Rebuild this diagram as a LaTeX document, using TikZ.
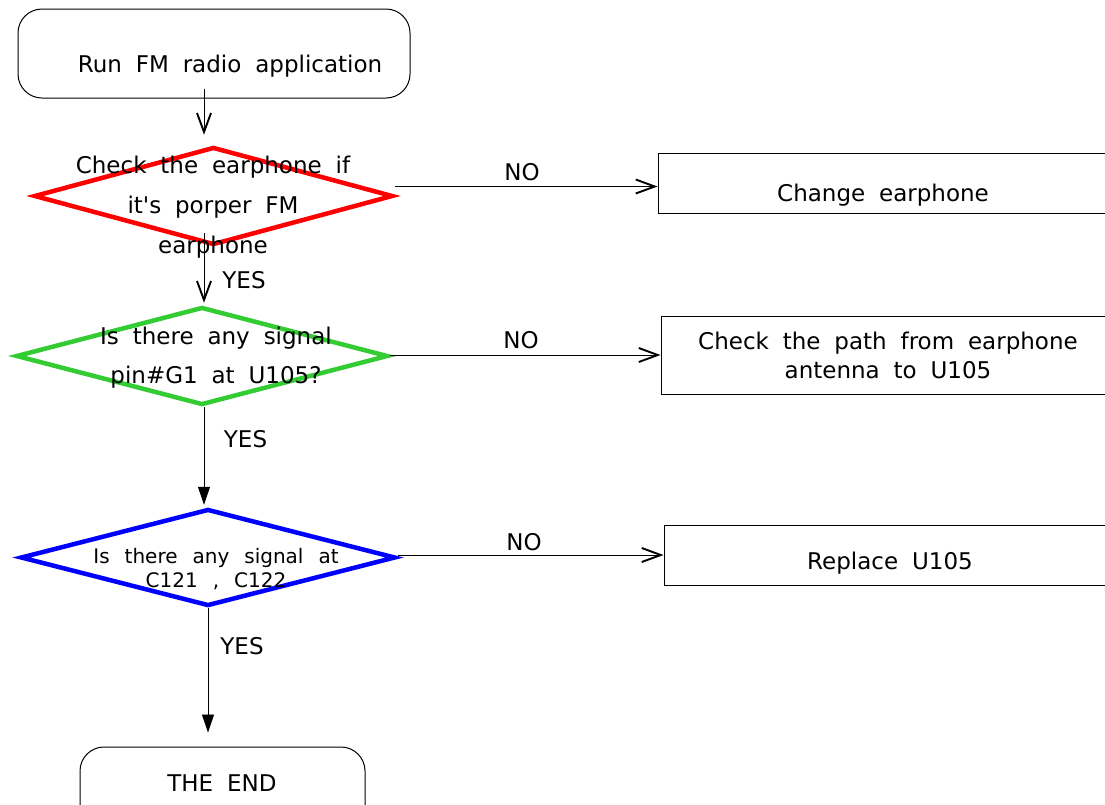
\documentclass[tikz,border=0pt]{standalone}
\usepackage{fontspec}
\setmainfont[WordSpace=1.9]{DejaVu Sans}
\newfontfamily\widespace[WordSpace=2.36]{DejaVu Sans}
\usetikzlibrary{shapes.geometric,arrows.meta,calc}

\definecolor{chkred}{RGB}{255,0,0}
\definecolor{siggreen}{RGB}{51,204,51}
\definecolor{sigblue}{RGB}{0,0,255}

\newcommand{\flowfont}{\fontsize{23}{29}\selectfont}

\begin{document}
\begin{tikzpicture}[%
    x=1pt, y=-1pt,
    >={Straight Barb[length=19pt,width=14pt,line width=1.9pt]},
    every node/.style={font=\flowfont, inner sep=0pt},
    term/.style={draw, rectangle, rounded corners=24pt, line width=1pt},
    decision/.style={draw, diamond, line width=4.5pt},
    action/.style={draw, rectangle, line width=1pt},
    solidhead/.style={-{Triangle[length=18pt,width=12pt]}, line width=0.9pt}
]

\useasboundingbox (0,0) rectangle (1105,804);

% start
\node[term, minimum width=392pt, minimum height=89pt] (run) at (214,53.5) {};
\node[anchor=base] (runtxt) at (230,72.7) {Run FM radio application};

% first check = earphone
\node[decision, draw=chkred, minimum width=359pt, minimum height=98pt] (earph) at (213.5,196) {};
\node[align=center, font=\fontsize{23}{40}\selectfont] (earphtxt) at (213,207)
    {Check the earphone if\\it\textquotesingle s porper FM\\earphone};

% second check = signal at U105
\node[decision, draw=siggreen, minimum width=372pt, minimum height=98pt] (sig) at (202,356) {};
\node[align=center, font=\fontsize{23}{39}\selectfont] (sigtxt) at (216,357.5)
    {Is there any signal\\pin\#G1 at U105?};

% third check = signal at C121, C122
\node[decision, draw=sigblue, minimum width=375pt, minimum height=97pt] (sigc) at (208,557.5) {};
\node[align=center, font=\widespace\fontsize{20}{24}\selectfont] (sigctxt) at (216,568.6)
    {Is there any signal at\\C121 , C122};

% end
\node[term, minimum width=285pt, minimum height=100pt] (theend) at (222.5,797) {};
\node[anchor=base] (endtxt) at (222,791) {THE END};

% actions on the right
\node[action, minimum width=454pt, minimum height=60pt] (change) at (885,183) {};
\node[anchor=base] (changetxt) at (883,201.7) {Change earphone};

\node[action, minimum width=454pt, minimum height=78pt, align=center] (path) at (888,355)
    {Check the path from earphone\\antenna to U105};

\node[action, minimum width=454pt, minimum height=60pt] (repl) at (891,555) {};
\node[anchor=base] (repltxt) at (890,569) {Replace U105};

% main line down
\coordinate (spine) at (204,0);
\coordinate (spineb) at (208,0);

\draw[->, line width=1pt] ($(run.south -| spine)+(0,-10)$) -- ($(earph.north -| spine)+(0,-10)$);
\draw[->, line width=1pt] ($(earph.south -| spine)+(0,-14)$) -- ($(sig.north -| spine)+(0,-2)$);
\draw[solidhead] (sig.south -| spine) -- ($(sigc.north -| spine)+(0,-2)$);
\draw[solidhead] (sigc.south -| spineb) -- ($(theend.north -| spineb)+(0,-14)$);

\node[anchor=base] (yes1) at (244,288) {YES};
\node[anchor=base] (yes2) at (245.5,447) {YES};
\node[anchor=base] (yes3) at (242,654) {YES};

% NO branches
\draw[->, line width=1pt] ($(change.west -| earph.east)+(0,3.5)$) -- ($(change.west)+(0,3.5)$);
\draw[->, line width=1pt] (path.west -| sig.east) -- (path.west);
\draw[->, line width=1pt] (repl.west -| sigc.east) -- (repl.west);

\node[anchor=base] (no1) at (522,180.7) {NO};
\node[anchor=base] (no2) at (521,348) {NO};
\node[anchor=base] (no3) at (524,550) {NO};

\end{tikzpicture}
\end{document}
